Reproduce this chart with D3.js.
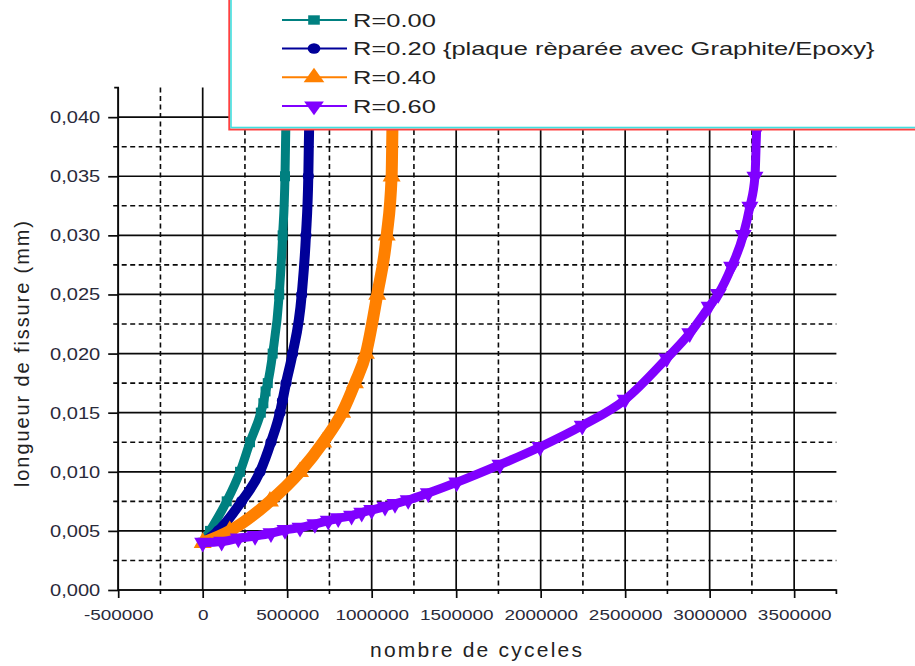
<!DOCTYPE html>
<html><head><meta charset="utf-8">
<script src="https://cdn.jsdelivr.net/npm/d3@7"></script>
<style>
body{margin:0;background:#fff;}
svg{display:block;font-family:"Liberation Sans",Arial,sans-serif;}
</style></head><body>
<svg id="chart" width="915" height="666"></svg>
<script>
// ---- data ----
const xTicks = [-500000, 0, 500000, 1000000, 1500000, 2000000, 2500000, 3000000, 3500000];
const xMinor = [-250000, 250000, 750000, 1250000, 1750000, 2250000, 2750000, 3250000];
const yTicks = [0, 0.005, 0.010, 0.015, 0.020, 0.025, 0.030, 0.035, 0.040];
const yMinor = [0.0025, 0.0075, 0.0125, 0.0175, 0.0225, 0.0275, 0.0325, 0.0375];
const seriesNames = ["R=0.00", "R=0.20 {plaque rèparée avec Graphite/Epoxy}", "R=0.40", "R=0.60"];
const xTitle = "nombre de cyceles";
const yTitle = "longueur de fissure (mm)";

const r000N = [0, 43000, 142000, 221000, 280000, 344000, 359000, 372000, 385000, 414000, 453000, 473000, 487000, 493000, 495000];
const r000A = [0.0040, 0.0050, 0.0075, 0.0100, 0.0125, 0.0150, 0.0158, 0.0168, 0.0175, 0.0200, 0.0250, 0.0300, 0.0350, 0.0400, 0.0410];

const r020N = [0, 92000, 230000, 339000, 404000, 457000, 472000, 493000, 532000, 586000, 611000, 625000, 631000, 633000];
const r020A = [0.0040, 0.0050, 0.0075, 0.0100, 0.0125, 0.0150, 0.0160, 0.0175, 0.0200, 0.0250, 0.0300, 0.0350, 0.0400, 0.0410];

const r040N = [0, 160000, 398000, 576000, 713000, 825000, 901000, 966000, 1033000, 1089000, 1118000, 1124000, 1126000];
const r040A = [0.0040, 0.0050, 0.0075, 0.0100, 0.0125, 0.0150, 0.0175, 0.0200, 0.0250, 0.0300, 0.0350, 0.0400, 0.0410];

const r060N = [0, 112000, 211000, 310000, 404000, 487000, 576000, 664000, 743000, 802000, 881000, 941000, 1000000, 1079000, 1138000, 1216000, 1335000, 1503000, 1759000, 1996000, 2246000, 2499000, 2746000, 2882000, 2997000, 3051000, 3130000, 3199000, 3238000, 3268000, 3278000, 3285000];
const r060A = [0.0040, 0.00409, 0.00437, 0.00457, 0.0048, 0.00508, 0.00527, 0.00558, 0.00586, 0.00607, 0.00629, 0.00654, 0.00677, 0.00705, 0.00728, 0.00761, 0.0082, 0.0091, 0.0106, 0.0121, 0.0139, 0.0161, 0.0196, 0.02172, 0.02397, 0.02504, 0.02735, 0.03003, 0.03243, 0.03497, 0.03892, 0.0410];

const colors = ["#008080", "#000099", "#ff8000", "#8000ff"];

// ---- chart ----
const svg = d3.select("#chart");
const x = d3.scaleLinear().domain([-500000, 3750000]).range([118.2, 836.4]);
const y = d3.scaleLinear().domain([0, 0.0425]).range([590, 87.6]);
const pTop = y(0.0425), pBottom = y(0), pLeft = x(-500000), pRight = x(3750000);
const ink = "#0a0a0a";

const grid = svg.append("g");
grid.selectAll("line.hm").data(yMinor).join("line")
  .attr("x1", pLeft - 5).attr("x2", pRight).attr("y1", d => y(d)).attr("y2", d => y(d))
  .attr("stroke", ink).attr("stroke-width", 1.6).attr("stroke-dasharray", "5,3.5");
grid.selectAll("line.vm").data(xMinor).join("line")
  .attr("y1", pTop).attr("y2", pBottom + 5).attr("x1", d => x(d)).attr("x2", d => x(d))
  .attr("stroke", ink).attr("stroke-width", 1.6).attr("stroke-dasharray", "5,3.5");
grid.selectAll("line.hM").data(yTicks).join("line")
  .attr("x1", pLeft).attr("x2", pRight).attr("y1", d => y(d)).attr("y2", d => y(d))
  .attr("stroke", ink).attr("stroke-width", 1.7);
grid.selectAll("line.vM").data(xTicks).join("line")
  .attr("y1", pTop).attr("y2", pBottom).attr("x1", d => x(d)).attr("x2", d => x(d))
  .attr("stroke", ink).attr("stroke-width", 1.7);

function stretch(sel, f) {
  sel.each(function () {
    const w = this.getComputedTextLength();
    d3.select(this).attr("textLength", w * f).attr("lengthAdjust", "spacingAndGlyphs");
  });
}

const yAxis = svg.append("g").attr("transform", `translate(${pLeft},0)`)
  .call(d3.axisLeft(y).tickValues(yTicks).tickSize(10).tickPadding(8)
    .tickFormat(d => d3.format(".3f")(d).replace(".", ",")));
yAxis.select(".domain").attr("d", `M-4,${pTop}H0V${pBottom}`).attr("stroke", ink).attr("stroke-width", 1.7);
yAxis.selectAll(".tick line").attr("stroke", ink).attr("stroke-width", 1.7);
yAxis.selectAll(".tick text").attr("font-size", 17).attr("fill", "#2a2a3a").attr("font-family", "Liberation Sans, Arial, sans-serif");
stretch(yAxis.selectAll(".tick text"), 1.18);

const xAxis = svg.append("g").attr("transform", `translate(0,${pBottom})`)
  .call(d3.axisBottom(x).tickValues(xTicks).tickSize(8).tickPadding(11).tickFormat(d => String(d)));
xAxis.select(".domain").attr("d", `M${pLeft},0H${pRight}V4`).attr("stroke", ink).attr("stroke-width", 1.7);
xAxis.selectAll(".tick line").attr("stroke", ink).attr("stroke-width", 1.7);
xAxis.selectAll(".tick text").attr("font-size", 15.5).attr("fill", "#2a2a3a").attr("font-family", "Liberation Sans, Arial, sans-serif");
stretch(xAxis.selectAll(".tick text"), 1.22);

const xt = svg.append("text").attr("x", 476).attr("y", 657).attr("text-anchor", "middle")
  .attr("font-size", 21).attr("fill", "#222").text(xTitle);
xt.attr("textLength", 212).attr("lengthAdjust", "spacing");
const yt = svg.append("text").attr("transform", "translate(29,354) rotate(-90)").attr("text-anchor", "middle")
  .attr("font-size", 20).attr("fill", "#222").text(yTitle);
yt.attr("textLength", 266).attr("lengthAdjust", "spacing");

const series = [[r000N, r000A], [r020N, r020A], [r040N, r040A], [r060N, r060A]];
const symbols = [d3.symbolSquare, d3.symbolCircle, d3.symbolTriangle, d3.symbolTriangle];
const symSizes = [100, 100, 140, 125];
const rotations = [0, 0, 0, 180];
const bandW = [9, 10, 12, 9];
const line = d3.line().x(d => x(d[0])).y(d => y(d[1])).curve(d3.curveMonotoneX);

series.forEach((s, i) => {
  const pts = s[0].map((n, k) => [n, s[1][k]]);
  const g = svg.append("g");
  g.append("path").datum(pts).attr("d", line).attr("fill", "none")
    .attr("stroke", colors[i]).attr("stroke-width", bandW[i]).attr("stroke-linejoin", "round");
  g.selectAll("path.m").data(pts).join("path").attr("class", "m")
    .attr("d", d3.symbol().type(symbols[i]).size(symSizes[i]))
    .attr("transform", d => `translate(${x(d[0])},${y(d[1])}) rotate(${rotations[i]})`)
    .attr("fill", colors[i]);
});

const lg = svg.append("g");
lg.append("rect").attr("x", 229.3).attr("y", -10).attr("width", 720).attr("height", 139.5)
  .attr("fill", "#fff").attr("stroke", "#ff4040").attr("stroke-width", 2);
lg.append("rect").attr("x", 231).attr("y", -10).attr("width", 720).attr("height", 137.5)
  .attr("fill", "none").attr("stroke", "#40e0e0").attr("stroke-width", 1.6);
const rowY = [20, 48.5, 77.3, 106];
const legSizes = [80, 75, 110, 100];
seriesNames.forEach((name, i) => {
  const ry = rowY[i];
  lg.append("line").attr("x1", 282).attr("x2", 347).attr("y1", ry).attr("y2", ry)
    .attr("stroke", colors[i]).attr("stroke-width", 2);
  lg.append("path").attr("d", d3.symbol().type(symbols[i]).size(legSizes[i])())
    .attr("transform", `translate(314,${ry}) scale(1.3,1.05) rotate(${rotations[i]})`)
    .attr("fill", colors[i]);
  const t = lg.append("text").attr("x", 353).attr("y", ry + 6.8).attr("font-size", 19)
    .attr("fill", "#222").text(name);
  stretch(t, 1.34);
});
</script>
</body></html>
